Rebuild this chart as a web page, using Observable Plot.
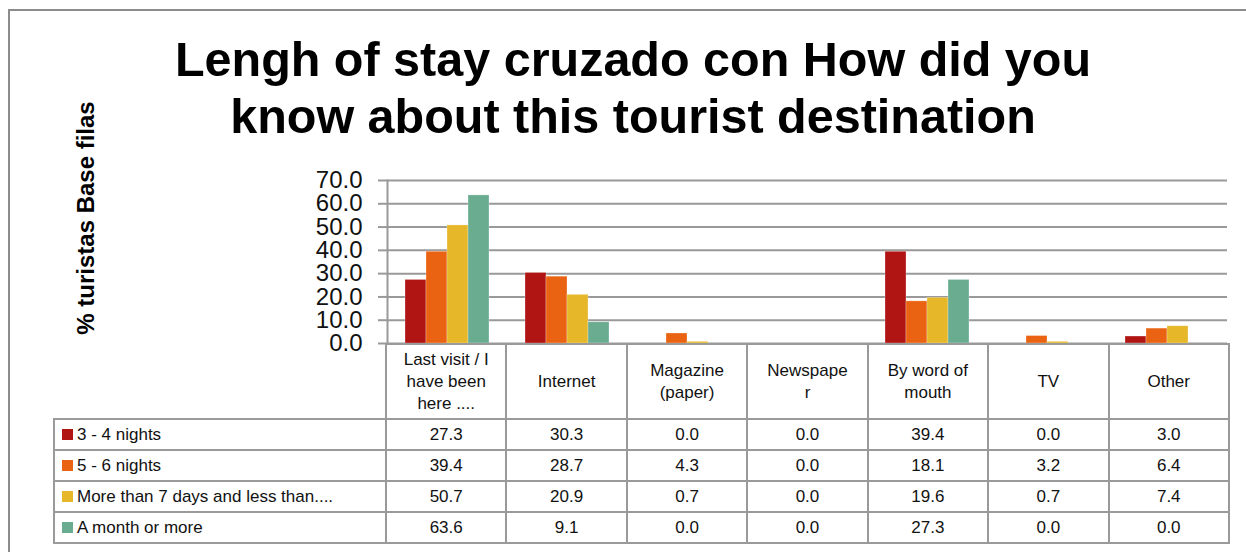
<!DOCTYPE html>
<html>
<head>
<meta charset="utf-8">
<script src="https://cdn.jsdelivr.net/npm/d3@7"></script>
<script src="https://cdn.jsdelivr.net/npm/@observablehq/plot@0.6"></script>
<style>
  body { margin: 0; background: #fff; font-family: "Liberation Sans", Arial, sans-serif; }
  #wrap { position: relative; width: 1246px; height: 552px; overflow: hidden; }
  #border { position: absolute; left: 8px; top: 9px; width: 1300px; height: 700px; border: 2px solid #8c8c8c; }
  #title { position: absolute; left: 0; top: 31px; width: 1266px; text-align: center; font-weight: bold; font-size: 48.5px; line-height: 57px; color: #000; }
  #ytitle { position: absolute; left: 86px; top: 218px; transform: translate(-50%, -50%) rotate(-90deg); white-space: nowrap; font-weight: bold; font-size: 24px; color: #000; }
  #chart { position: absolute; left: 0; top: 160px; }
  #tbl { position: absolute; left: 53px; top: 343px; border-collapse: collapse; table-layout: fixed; font-size: 17px; color: #111; }
  #tbl td { border: 2px solid #9a9a9a; text-align: center; padding: 0; height: 29px; line-height: 20px; white-space: nowrap; }
  #tbl tr.head td { height: 73px; line-height: 22px; }
  #tbl tr.head td.blank { border: none; border-bottom: 2px solid #9a9a9a; }
  #tbl td.leg { text-align: left; padding-left: 7px; }
  .sw { display: inline-block; width: 11px; height: 11px; margin-right: 4px; vertical-align: 0px; }
</style>
</head>
<body>
<div id="wrap">
  <div id="border"></div>
  <div id="title">Lengh of stay cruzado con How did you<br>know about this tourist destination</div>
  <div id="ytitle">% turistas Base filas</div>
  <div id="chart"></div>
  <table id="tbl"></table>
</div>
<script>
const categories = ["Last visit / I have been here ....", "Internet", "Magazine (paper)", "Newspaper", "By word of mouth", "TV", "Other"];
const categoryLabels = ["Last visit / I<br>have been<br>here ....", "Internet", "Magazine<br>(paper)", "Newspape<br>r", "By word of<br>mouth", "TV", "Other"];
const seriesNames = ["3 - 4 nights", "5 - 6 nights", "More than 7 days and less than....", "A month or more"];
const seriesColors = ["#B01513", "#EA6312", "#E6B729", "#6AAC90"];
const nights3to4 = [27.3, 30.3, 0.0, 0.0, 39.4, 0.0, 3.0];
const nights5to6 = [39.4, 28.7, 4.3, 0.0, 18.1, 3.2, 6.4];
const moreThan7 = [50.7, 20.9, 0.7, 0.0, 19.6, 0.7, 7.4];
const monthOrMore = [63.6, 9.1, 0.0, 0.0, 27.3, 0.0, 0.0];
const yTicks = [0, 10, 20, 30, 40, 50, 60, 70];

const seriesValues = [nights3to4, nights5to6, moreThan7, monthOrMore];
const rows = [];
seriesNames.forEach((s, si) => categories.forEach((c, ci) => rows.push({category: c, series: s, value: seriesValues[si][ci]})));

const fmt = d3.format(".1f");

const chart = Plot.plot({
  width: 1246,
  height: 200,
  marginTop: 20,
  marginBottom: 17,
  marginLeft: 385,
  marginRight: 18,
  style: {fontFamily: "'Liberation Sans', Arial, sans-serif", background: "transparent"},
  fx: {domain: categories, padding: 0, axis: null, label: null},
  x: {domain: seriesNames, axis: null, paddingInner: 0, paddingOuter: 0.77},
  y: {domain: [0, 70], axis: null, label: null},
  color: {domain: seriesNames, range: seriesColors},
  marks: [
    Plot.ruleY(yTicks, {stroke: "#999", strokeWidth: 2}),
    Plot.frame({anchor: "left", facetAnchor: "left", stroke: "#999", strokeWidth: 2}),
    Plot.barY(rows, {fx: "category", x: "series", y: "value", fill: "series", stroke: "#fff", strokeOpacity: 0.35, strokeWidth: 0.8}),
    Plot.axisY(yTicks, {label: null, tickSize: 9, tickPadding: 16, stroke: "#999", strokeWidth: 2, fontSize: 24, tickFormat: fmt, fill: "#111"})
  ]
});
document.getElementById("chart").appendChild(chart);

// data table built from the same arrays
const colW = 843 / categories.length;
const tbl = document.getElementById("tbl");
let html = `<colgroup><col style="width:332px">` + categories.map(() => `<col style="width:${colW}px">`).join("") + `</colgroup>`;
html += `<tr class="head"><td class="blank"></td>` + categoryLabels.map(l => `<td>${l}</td>`).join("") + `</tr>`;
seriesNames.forEach((s, si) => {
  html += `<tr><td class="leg"><span class="sw" style="background:${seriesColors[si]}"></span>${s}</td>` +
    seriesValues[si].map(v => `<td>${fmt(v)}</td>`).join("") + `</tr>`;
});
tbl.innerHTML = html;
</script>
</body>
</html>
